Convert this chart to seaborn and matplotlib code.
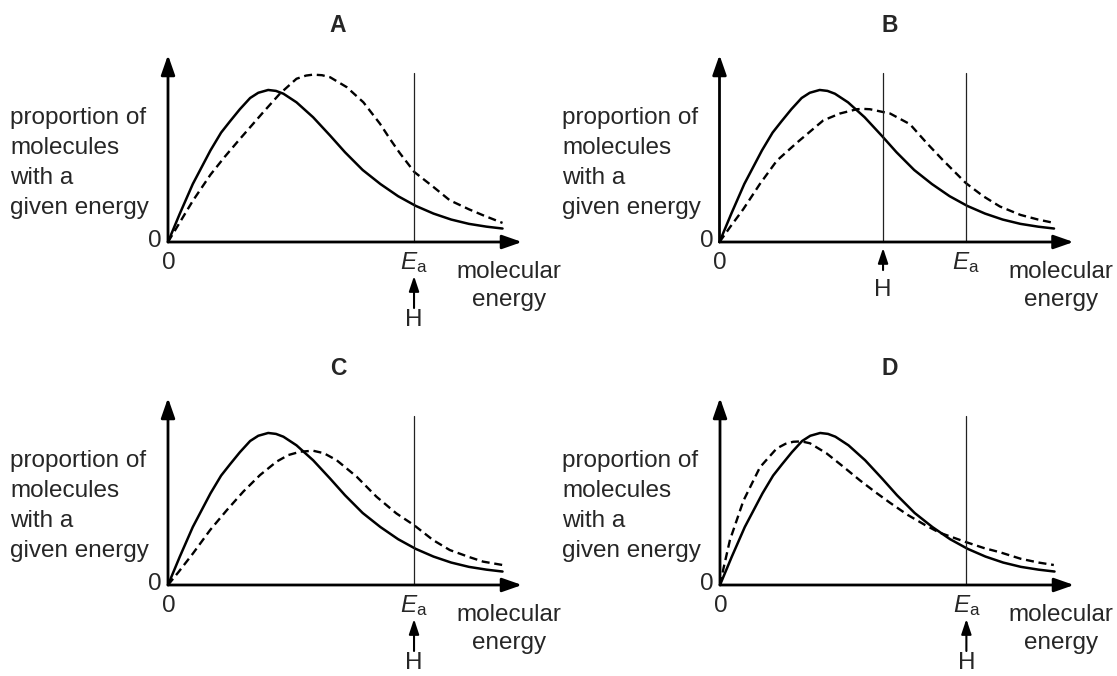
import numpy as np
import pandas as pd
import matplotlib
matplotlib.use("Agg")
import matplotlib.pyplot as plt
import seaborn as sns

# === Data (energy, proportion), axes scaled 0-10 ===
solid_energy = [0, 0.33, 0.7, 1.2, 1.5, 1.75, 2.03, 2.32, 2.55, 2.83, 3.05,
                3.26, 3.63, 4.1, 4.58, 5.0, 5.5, 6.0, 6.5, 7.0, 7.5, 8.0,
                8.5, 9.0, 9.45]
solid_prop = [0, 1.5, 3.1, 4.9, 5.85, 6.45, 7.1, 7.7, 7.98, 8.13, 8.08,
              7.93, 7.47, 6.67, 5.69, 4.8, 3.85, 3.1, 2.45, 1.93, 1.52, 1.2,
              0.97, 0.82, 0.72]

dashed_a_energy = [0, 0.7, 1.2, 1.6, 1.99, 2.69, 3.16, 3.63, 3.9, 4.1, 4.35,
                   4.58, 5.05, 5.52, 5.99, 6.27, 6.55, 6.96, 7.5, 7.96, 8.5,
                   8.9, 9.45]
dashed_a_prop = [0, 2.2, 3.6, 4.55, 5.42, 6.94, 7.93, 8.73, 8.9, 8.95, 8.92,
                 8.81, 8.28, 7.47, 6.32, 5.51, 4.75, 3.74, 2.94, 2.23, 1.75,
                 1.43, 1.02]

dashed_b_energy = [0, 0.3, 0.67, 1.14, 1.62, 2.18, 2.93, 3.4, 3.88, 4.05, 4.25,
                   4.82, 5.38, 5.85, 6.3, 6.96, 7.45, 7.92, 8.5, 9.0, 9.45]
dashed_b_prop = [0, 0.8, 1.75, 3.1, 4.35, 5.3, 6.5, 6.87, 7.1, 7.12, 7.1,
                 6.87, 6.3, 5.3, 4.4, 3.15, 2.45, 1.9, 1.45, 1.2, 1.02]

dashed_c_energy = [0, 0.3, 0.71, 1.19, 1.66, 2.13, 2.6, 3.07, 3.4, 3.74, 4.1,
                   4.4, 4.76, 5.33, 5.89, 6.45, 6.95, 7.49, 7.96, 8.5, 8.9, 9.45]
dashed_c_prop = [0, 0.7, 1.7, 2.94, 4.0, 5.0, 5.88, 6.6, 6.95, 7.13, 7.18,
                 7.05, 6.68, 5.79, 4.72, 3.83, 3.2, 2.4, 1.87, 1.5, 1.25, 1.07]

dashed_d_energy = [0, 0.1, 0.28, 0.66, 1.13, 1.6, 1.85, 2.07, 2.3, 2.54, 3.01,
                   3.48, 3.95, 4.4, 4.8, 5.3, 5.8, 6.2, 6.94, 7.45, 7.91, 8.5,
                   9.0, 9.43]
dashed_d_prop = [0, 0.9, 2.4, 4.5, 6.3, 7.3, 7.55, 7.66, 7.68, 7.58, 7.04,
                 6.33, 5.6, 4.95, 4.4, 3.75, 3.2, 2.8, 2.3, 1.98, 1.75, 1.4,
                 1.2, 1.07]

panel_titles = ["A", "B", "C", "D"]
ea_energy = [6.95, 6.96, 6.95, 6.96]
h_energy = [6.95, 4.62, 6.95, 6.96]
y_label_lines = ["proportion of", "molecules", "with a", "given energy"]

# === Style ===
sns.set_theme(style="white")
plt.rcParams["font.family"] = ["Liberation Sans", "DejaVu Sans"]
plt.rcParams["mathtext.fontset"] = "custom"
plt.rcParams["mathtext.it"] = "Liberation Sans:italic"
plt.rcParams["mathtext.rm"] = "Liberation Sans"

W, H = 1117, 676
fig = plt.figure(figsize=(W / 100, H / 100), dpi=100)
fig.patch.set_facecolor("white")

# pixel origin of each panel and scale (px per data unit)
origins = [(168, 242), (719.5, 242), (168, 585), (720, 585)]
sx, sy = 35.4, 18.7
dashed_sets = [(dashed_a_energy, dashed_a_prop), (dashed_b_energy, dashed_b_prop),
               (dashed_c_energy, dashed_c_prop), (dashed_d_energy, dashed_d_prop)]

fs = 17.5
for i, (x0, y0) in enumerate(origins):
    ax = fig.add_axes([x0 / W, 1 - y0 / H, 10 * sx / W, 10 * sy / H])
    ax.set_xlim(0, 10)
    ax.set_ylim(0, 10)
    ax.axis("off")

    solid = pd.DataFrame({"energy": solid_energy, "proportion": solid_prop})
    de, dp = dashed_sets[i]
    dashed = pd.DataFrame({"energy": de, "proportion": dp})
    sns.lineplot(data=solid, x="energy", y="proportion", ax=ax, color="black",
                 lw=1.8, estimator=None, sort=False, clip_on=False)
    sns.lineplot(data=dashed, x="energy", y="proportion", ax=ax, color="black",
                 lw=1.7, linestyle=(0, (3.4, 2.0)), estimator=None, sort=False,
                 clip_on=False)

    # axes with arrowheads
    arr = dict(arrowstyle="-|>,head_length=1.2,head_width=0.42", lw=2.0,
               color="black", shrinkA=0, shrinkB=0, mutation_scale=10)
    ax.annotate("", xy=(10, 0), xytext=(0, 0), arrowprops=arr, annotation_clip=False)
    ax.annotate("", xy=(0, 10), xytext=(0, 0), arrowprops=arr, annotation_clip=False)

    # vertical lines
    ax.plot([ea_energy[i]] * 2, [0, 9.05], color="#222222", lw=0.9, clip_on=False)
    if i == 1:
        ax.plot([h_energy[i]] * 2, [0, 9.05], color="#222222", lw=0.9, clip_on=False)

    # labels
    ax.text(4.8, 11.6, panel_titles[i], fontsize=16.5, fontweight="bold",
            ha="center", va="center")
    ax.text(-0.37, 0.05, "0", fontsize=fs, ha="center", va="center")
    ax.text(0.02, -1.12, "0", fontsize=fs, ha="center", va="center")
    ax.text(ea_energy[i], -1.1, r"$E_\mathrm{a}$", fontsize=fs, ha="center", va="center")
    ax.text(9.64, -1.6, "molecular", fontsize=fs, ha="center", va="center")
    ax.text(9.64, -3.1, "energy", fontsize=fs, ha="center", va="center")
    for k, line in enumerate(y_label_lines):
        ax.text((10 - x0) / sx if i % 2 == 0 else (562 - x0) / sx,
                6.63 - k * 1.605, line, fontsize=fs, ha="left", va="center")

    # H arrow
    harr = dict(arrowstyle="-|>,head_length=0.9,head_width=0.3", lw=1.5,
                color="black", shrinkA=0, shrinkB=0, mutation_scale=10)
    if i == 1:
        tip, tail, htxt = -0.32, -1.5, -2.57
    else:
        tip, tail, htxt = -1.82, -3.53, -4.17
    ax.annotate("", xy=(h_energy[i], tip), xytext=(h_energy[i], tail),
                arrowprops=harr, annotation_clip=False)
    ax.text(h_energy[i], htxt, "H", fontsize=fs, ha="center", va="center")

fig.savefig("out.png", dpi=100, facecolor="white")
